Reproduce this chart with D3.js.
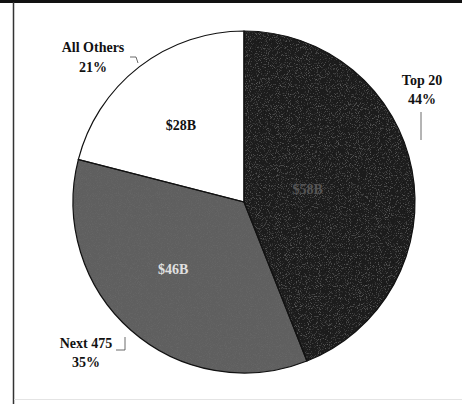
<!DOCTYPE html>
<html>
<head>
<meta charset="utf-8">
<script src="https://cdn.jsdelivr.net/npm/d3@7"></script>
<style>
  html, body { margin: 0; padding: 0; background: #fff; }
  svg { display: block; }
</style>
</head>
<body>
<svg id="chart" width="462" height="404"></svg>
<script>
// Share of spending by group
const categories = ["Top 20", "Next 475", "All Others"];
const shares = [44, 35, 21];
const amounts = ["$58B", "$46B", "$28B"];
const fills = ["#1a1a1a", "#5e5e5e", "#ffffff"];

const svg = d3.select("#chart");
const W = 462, H = 404;
const cx = 244, cy = 202, R = 171;

// grain texture for the shaded slices
const defs = svg.append("defs");
function grain(id, alpha, bias, cut, seed) {
  const f = defs.append("filter").attr("id", id)
    .attr("x", "0").attr("y", "0").attr("width", "1").attr("height", "1");
  f.append("feTurbulence").attr("type", "fractalNoise")
    .attr("baseFrequency", 1.1).attr("numOctaves", 2).attr("seed", seed).attr("result", "noise");
  f.append("feColorMatrix").attr("in", "noise").attr("type", "matrix")
    .attr("values", `0 0 0 0 ${bias}  0 0 0 0 ${bias}  0 0 0 0 ${bias}  0 0 0 ${alpha} ${-alpha * cut}`)
    .attr("result", "n2");
  f.append("feComposite").attr("in", "n2").attr("in2", "SourceGraphic").attr("operator", "in").attr("result", "n3");
  f.append("feMerge").selectAll("feMergeNode").data(["SourceGraphic", "n3"]).join("feMergeNode").attr("in", d => d);
}
grain("grainDark", 1.2, 0.3, 0.55, 3);
grain("grainMid", 1.6, 0.15, 0.45, 7);

// frame: heavy rule on top, thin rule down the left
svg.append("line").attr("x1", 0).attr("x2", W).attr("y1", 1.5).attr("y2", 1.5)
  .attr("stroke", "#111").attr("stroke-width", 3);
svg.append("line").attr("x1", 13.5).attr("x2", 13.5).attr("y1", 2).attr("y2", H)
  .attr("stroke", "#333").attr("stroke-width", 1.5);
svg.append("line").attr("x1", 14).attr("x2", W).attr("y1", 399.5).attr("y2", 399.5)
  .attr("stroke", "#e4e4e4").attr("stroke-width", 1);

const pie = d3.pie().sort(null).value(d => d)(shares);
const arc = d3.arc().innerRadius(0).outerRadius(R);

const g = svg.append("g").attr("transform", `translate(${cx},${cy})`);
g.selectAll("path.slice").data(pie).join("path")
  .attr("class", "slice")
  .attr("d", arc)
  .attr("fill", (d, i) => fills[i])
  .attr("filter", (d, i) => i === 0 ? "url(#grainDark)" : i === 1 ? "url(#grainMid)" : null);
g.selectAll("path.edge").data(pie).join("path")
  .attr("class", "edge")
  .attr("d", arc)
  .attr("fill", "none")
  .attr("stroke", "#111").attr("stroke-width", 1.2);

// amount labels inside slices
const inner = d3.arc().innerRadius(R * 0.45).outerRadius(R * 0.45);
const amtOffsets = [[-12, 2], [-20, 9], [-16, -16]];
g.selectAll("text.amt").data(pie).join("text")
  .attr("class", "amt")
  .attr("transform", (d, i) => {
    const c = inner.centroid(d);
    return `translate(${c[0] + amtOffsets[i][0]},${c[1] + amtOffsets[i][1]})`;
  })
  .attr("text-anchor", "middle").attr("dy", "0.35em")
  .attr("font-family", "'Liberation Serif', 'Times New Roman', serif")
  .attr("font-weight", "bold").attr("font-size", 14)
  .attr("fill", (d, i) => i === 0 ? "#555" : i === 1 ? "#e0e0e0" : "#111")
  .text((d, i) => amounts[i]);

// outside category labels with leader lines
const labelPos = [[422, 85, 19], [86, 348, 19], [93, 52, 20]];
const leaders = [
  [[421, 112], [421, 140]],
  [[116, 350], [125, 350], [125, 337]],
  [[130, 57], [136, 57], [138, 63]]
];
labelPos.forEach((p, i) => {
  const t = svg.append("text")
    .attr("x", p[0]).attr("y", p[1])
    .attr("text-anchor", "middle")
    .attr("font-family", "'Liberation Serif', 'Times New Roman', serif")
    .attr("font-weight", "bold").attr("font-size", 14).attr("fill", "#111");
  t.append("tspan").attr("x", p[0]).attr("dy", 0).text(categories[i]);
  t.append("tspan").attr("x", p[0]).attr("dy", p[2]).text(shares[i] + "%");
  svg.append("path").attr("d", d3.line()(leaders[i]))
    .attr("fill", "none").attr("stroke", "#444").attr("stroke-width", 0.8);
});
</script>
</body>
</html>
